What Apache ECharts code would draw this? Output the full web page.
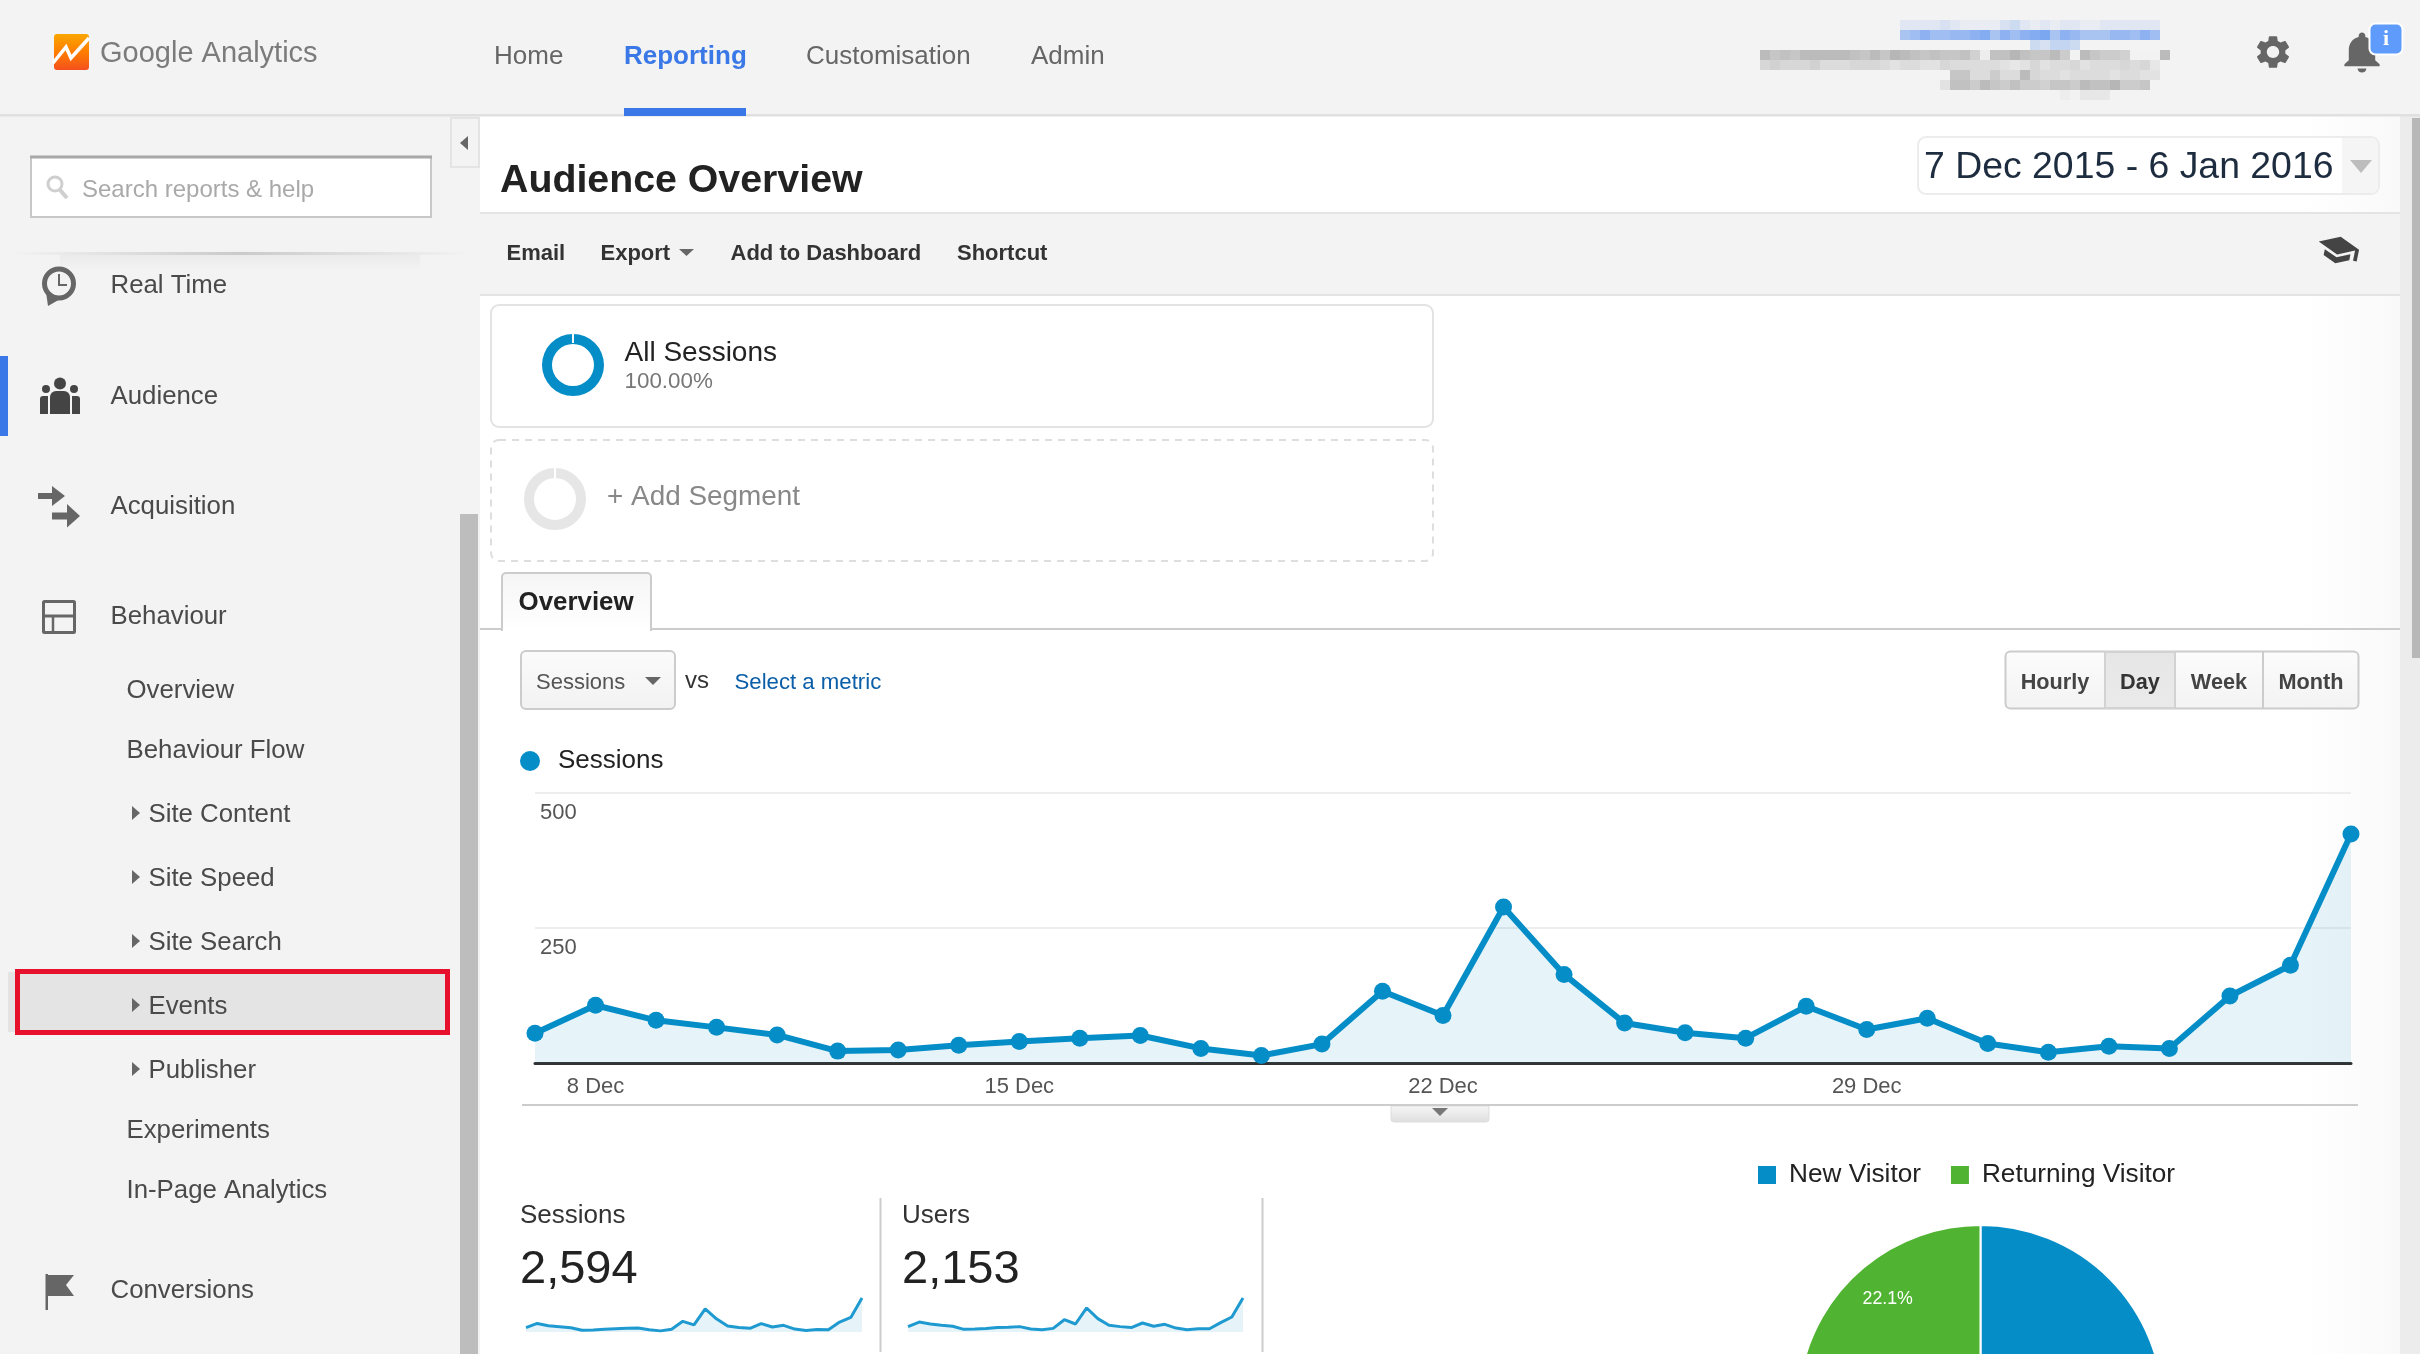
<!DOCTYPE html>
<html>
<head>
<meta charset="utf-8">
<title>Audience Overview</title>
<style>
  html, body { margin: 0; padding: 0; background: #fff; overflow: hidden; }
  #chart { width: 2420px; height: 1354px; }
</style>
<script src="https://cdn.jsdelivr.net/npm/echarts@6/dist/echarts.min.js"></script>
</head>
<body>
<div id="chart"></div>
<script>
// chart data
const days = ['7 Dec','8 Dec','9 Dec','10 Dec','11 Dec','12 Dec','13 Dec','14 Dec','15 Dec','16 Dec','17 Dec','18 Dec','19 Dec','20 Dec','21 Dec','22 Dec','23 Dec','24 Dec','25 Dec','26 Dec','27 Dec','28 Dec','29 Dec','30 Dec','31 Dec','1 Jan','2 Jan','3 Jan','4 Jan','5 Jan','6 Jan'];
const dayTicks = ['8 Dec','15 Dec','22 Dec','29 Dec'];
const sessions = [55,107,79,66,52,22,24,33,40,46,51,27,14,35,133,88,289,164,74,56,46,105,62,83,36,20,31,27,124,181,424];
const users = [49,91,73,61,52,24,27,33,40,43,49,27,21,33,112,73,219,122,61,49,40,82,52,70,36,21,30,30,85,137,310];
const visitorNames = ['New Visitor','Returning Visitor'];
const visitorShare = [77.9,22.1];
const segmentShare = [100];

const navTop = ['Home','Customisation','Admin'];
const menuMain = [['Real Time',284],['Audience',395],['Acquisition',505],['Behaviour',615],['Conversions',1289]];
const menuSub = [['Overview',689],['Behaviour Flow',749],['Experiments',1129],['In-Page Analytics',1189]];
const menuArrow = [['Site Content',813],['Site Speed',877],['Site Search',941],['Events',1005],['Publisher',1069]];

const FONT = '"Liberation Sans", Arial, sans-serif';
const BLUE = '#058dc7';
const GREEN = '#50b432';

// the graphic component has no plain path type, so register the icons as shapes
echarts.graphic.registerShape('iconGear', echarts.graphic.extendPath('M19.14 12.94c.04-.3.06-.61.06-.94 0-.32-.02-.64-.07-.94l2.03-1.58c.18-.14.23-.41.12-.61l-1.92-3.32c-.12-.22-.37-.29-.59-.22l-2.39.96c-.5-.38-1.03-.7-1.62-.94l-.36-2.54c-.04-.24-.24-.41-.48-.41h-3.84c-.24 0-.43.17-.47.41l-.36 2.54c-.59.24-1.13.57-1.62.94l-2.39-.96c-.22-.08-.47 0-.59.22L2.74 8.87c-.12.21-.08.47.12.61l2.03 1.58c-.05.3-.09.63-.09.94s.02.64.07.94l-2.03 1.58c-.18.14-.23.41-.12.61l1.92 3.32c.12.22.37.29.59.22l2.39-.96c.5.38 1.03.7 1.62.94l.36 2.54c.05.24.24.41.48.41h3.84c.24 0 .44-.17.47-.41l.36-2.54c.59-.24 1.13-.56 1.62-.94l2.39.96c.22.08.47 0 .59-.22l1.92-3.32c.12-.22.07-.47-.12-.61l-2.01-1.58zM12 15.6c-1.98 0-3.6-1.62-3.6-3.6s1.62-3.6 3.6-3.6 3.6 1.62 3.6 3.6-1.62 3.6-3.6 3.6z', {}));
echarts.graphic.registerShape('iconBell', echarts.graphic.extendPath('M12 22c1.1 0 2-.9 2-2h-4c0 1.1.89 2 2 2zm6-6v-5c0-3.07-1.64-5.64-4.5-6.32V4c0-.83-.67-1.5-1.5-1.5s-1.5.67-1.5 1.5v.68C7.63 5.36 6 7.92 6 11v5l-2 2v1h16v-1l-2-2z', {}));
echarts.graphic.registerShape('iconHat', echarts.graphic.extendPath('M5 13.18v4L12 21l7-3.82v-4L12 17l-7-3.82zM12 3L1 9l11 6 9-4.91V17h2V9L12 3z', {}));

// small helpers for the page around the chart
function text(x, y, str, size, fill, bold, align) {
  return {
    type: 'text', x: x, y: y + size * 0.08, z: 20, silent: true,
    style: {
      text: str, fill: fill, font: (bold ? 'bold ' : '') + size + 'px ' + FONT,
      align: align || 'left', verticalAlign: 'middle',
      textAlign: align || 'left', textVerticalAlign: 'middle'
    }
  };
}
function rect(x, y, w, h, fill, stroke, lw, r, z) {
  return {
    type: 'rect', z: z === undefined ? -10 : z, silent: true,
    shape: { x: x, y: y, width: w, height: h, r: r || 0 },
    style: { fill: fill || 'transparent', stroke: stroke || null, lineWidth: lw || 0 }
  };
}
function poly(points, fill, z) {
  return { type: 'polygon', z: z === undefined ? 10 : z, silent: true, shape: { points: points }, style: { fill: fill } };
}
function line(x1, y1, x2, y2, stroke, lw, z) {
  return { type: 'line', z: z === undefined ? -5 : z, silent: true, shape: { x1: x1, y1: y1, x2: x2, y2: y2 }, style: { stroke: stroke, lineWidth: lw } };
}
function circle(cx, cy, r, fill, stroke, lw) {
  return { type: 'circle', z: 10, silent: true, shape: { cx: cx, cy: cy, r: r }, style: { fill: fill || 'transparent', stroke: stroke || null, lineWidth: lw || 0 } };
}
// icons are 24x24 paths, scaled around their middle: cx, cy is where the middle lands
function icon(type, cx, cy, sx, sy, fill, rot) {
  return { type: type, z: 10, silent: true, x: cx - 12, y: cy - 12, scaleX: sx, scaleY: sy, rotation: rot || 0, originX: 12, originY: 12, shape: {}, style: { fill: fill } };
}
function grad(x2, y2, stops) {
  return { type: 'linear', x: 0, y: 0, x2: x2, y2: y2, colorStops: stops.map((c, i) => ({ offset: i / (stops.length - 1), color: c })) };
}

// blurred account name in the header, one hex digit per 10px cell
const mosaic = [
  [1900, 20, 1, 'ddddcdeeeecbdededdee'.padEnd(26, 'd')],
  [1900, 30, 1, '7646655437464327457775564'.padEnd(26, '6')],
  [2030, 40, 1, 'bcaab'],
  [1760, 50, 0, '5767555556757456767769e66467758f57889fff5'],
  [1760, 60, 0, 'a9aaa9bbbaaabcbbccabbbbbcdcacbbacbbbabad'],
  [1950, 70, 0, '77bb8bb5abbcbbbbcbbcc'],
  [1940, 80, 0, 'c66857868897785664887'],
  [2060, 90, 0, 'efdddf']
];
function mosaicCells() {
  const out = [];
  mosaic.forEach(function (row) {
    row[3].split('').forEach(function (d, i) {
      const t = parseInt(d, 16) / 15;
      const from = row[2] ? [105, 155, 240] : [160, 160, 160];
      const c = from.map(v => Math.round(v + (242 - v) * t));
      out.push(rect(row[0] + i * 10, row[1], 10, 10, 'rgb(' + c.join(',') + ')', null, 0, 0, -4));
    });
  });
  return out;
}

function chrome() {
  const els = [];
  // page backgrounds
  els.push(rect(0, 0, 2420, 1354, '#f3f3f3'));
  els.push(rect(480, 116, 1920, 1238, '#ffffff'));
  els.push(rect(2300, 116, 100, 1238, grad(1, 0, ['rgba(250,250,250,0)', '#f9f9f9'])));
  els.push(rect(2400, 116, 20, 1238, '#ececec'));
  els.push(rect(2412, 118, 8, 540, '#b8b8b8'));
  els.push(rect(0, 114, 2420, 2.5, '#e0e0e0'));
  els.push(rect(480, 213, 1920, 82, '#f3f3f3'));
  els.push(rect(480, 212, 1920, 2, '#e4e4e4'));
  els.push(rect(480, 294, 1920, 2, '#e4e4e4'));

  // header
  els.push(rect(54, 34, 35, 36, grad(0, 1, ['#f9a600', '#ff7d00', '#f4511e']), null, 0, 3, 10));
  els.push({ type: 'polyline', z: 11, silent: true, shape: { points: [[53, 63], [66, 47], [71, 58], [89, 38]] }, style: { stroke: '#fff', lineWidth: 3.5, fill: null } });
  els.push(text(100, 52, 'Google Analytics', 29, '#7b7b7b'));
  els.push(text(494, 55, navTop[0], 26, '#666'));
  els.push(text(624, 55, 'Reporting', 26, '#3b78e7', true));
  els.push(text(806, 55, navTop[1], 26, '#666'));
  els.push(text(1031, 55, navTop[2], 26, '#666'));
  els.push(rect(624, 108, 122, 8, '#3b78e7', null, 0, 0, -3));
  mosaicCells().forEach(e => els.push(e));
  els.push(icon('iconGear', 2273, 52, 1.72, 1.65, '#666'));
  els.push(icon('iconBell', 2362, 52, 2.2, 2.05, '#666'));
  els.push(rect(2369.5, 23.5, 33, 31, '#5e9bfa', '#fff', 2, 6, 11));
  els.push(Object.assign(text(2386, 38, 'i', 22, '#fff', true, 'center'), { style: { text: 'i', fill: '#fff', font: 'bold 22px "Liberation Serif", serif', align: 'center', verticalAlign: 'middle', textAlign: 'center', textVerticalAlign: 'middle' } }));

  // side bar
  els.push(rect(31, 157, 400, 60, '#fff', '#c8c8c8', 2));
  els.push(rect(30, 155.5, 402, 3, '#a8a8a8'));
  els.push(circle(55, 184, 7, null, '#cfcfcf', 3));
  els.push(line(60, 190, 67, 198, '#cfcfcf', 4, 10));
  els.push(text(82, 188, 'Search reports & help', 24, '#a9a9a9'));
  els.push(rect(451, 118, 28, 49, '#f3f3f3', '#e4e4e4', 2));
  els.push(poly([[468, 136], [460, 143], [468, 150]], '#666'));
  els.push(rect(10, 252, 460, 3, grad(1, 0, ['rgba(0,0,0,0)', 'rgba(0,0,0,0.17)', 'rgba(0,0,0,0)']), null, 0, 0, -8));
  els.push(rect(60, 255, 360, 16, grad(0, 1, ['rgba(0,0,0,0.035)', 'rgba(0,0,0,0)']), null, 0, 0, -8));
  els.push(rect(0, 356, 8, 80, '#3b78e7'));
  els.push(rect(460, 514, 18, 840, '#bdbdbd'));
  els.push(rect(8, 972, 437, 60, '#e4e4e4'));
  els.push(rect(17.5, 971.5, 430, 61, 'transparent', '#e8112d', 5, 0, 15));
  menuMain.forEach(m => els.push(text(110.5, m[1], m[0], 25.8, '#4a4a4a')));
  menuSub.forEach(m => els.push(text(126.5, m[1], m[0], 25.8, '#4a4a4a')));
  menuArrow.forEach(m => {
    els.push(text(148.5, m[1], m[0], 25.8, '#4a4a4a'));
    els.push(poly([[132, m[1] - 7], [140, m[1]], [132, m[1] + 7]], '#666'));
  });
  // side bar icons
  els.push(circle(59, 283.5, 14.5, null, '#666', 5));
  els.push(poly([[46, 292], [48, 306], [62, 298]], '#666'));
  els.push({ type: 'polyline', z: 11, silent: true, shape: { points: [[59, 274], [59, 285], [67, 285]] }, style: { stroke: '#666', lineWidth: 2, fill: null } });
  els.push(circle(60, 383.5, 6, '#444'));
  els.push(circle(46, 389, 4, '#444'));
  els.push(circle(74, 389, 4, '#444'));
  els.push(rect(50, 391, 20, 23, '#444', null, 0, [6, 6, 0, 0], 10));
  els.push(rect(40, 396, 8, 18, '#444', null, 0, [3, 0, 0, 0], 10));
  els.push(rect(72, 396, 8, 18, '#444', null, 0, [0, 3, 0, 0], 10));
  els.push(poly([[38, 493], [52, 493], [52, 486], [65, 496], [52, 506], [52, 499], [38, 499]], '#666'));
  els.push(poly([[52, 512.5], [67, 512.5], [67, 504], [80, 516], [67, 527.5], [67, 519.5], [52, 519.5]], '#666'));
  els.push(rect(43.5, 601.5, 31, 31, 'transparent', '#666', 3, 1, 10));
  els.push(line(43, 616, 75, 616, '#666', 3, 10));
  els.push(line(53, 616, 53, 632, '#666', 2.5, 10));
  els.push(rect(45.5, 1274, 2.5, 36, '#666', null, 0, 0, 10));
  els.push(poly([[46, 1275], [74, 1275], [66, 1285], [74, 1296], [46, 1296]], '#666'));

  // title row
  els.push(text(500, 178, 'Audience Overview', 39.3, '#222', true));
  els.push(rect(1918, 137, 461, 57, '#fff', '#ececec', 2, 8));
  els.push(rect(2342, 138, 36, 55, '#f5f5f5', null, 0, [0, 7, 7, 0]));
  els.push(text(1924, 165, '7 Dec 2015 - 6 Jan 2016', 37.4, '#1d2d3f'));
  els.push(poly([[2350, 160], [2372, 160], [2361, 173]], '#bdbdbd'));

  // toolbar
  els.push(text(506.5, 252, 'Email', 22, '#333', true));
  els.push(text(600.5, 252, 'Export', 22, '#333', true));
  els.push(poly([[679, 249], [694, 249], [686.5, 256]], '#666'));
  els.push(text(730.5, 252, 'Add to Dashboard', 22, '#333', true));
  els.push(text(957, 252, 'Shortcut', 22, '#333', true));
  els.push(icon('iconHat', 2338, 250, 1.87, 1.5, '#444', -0.2));

  // segments
  els.push(rect(491, 305, 942, 122, '#fff', '#e3e3e3', 2, 8));
  els.push(rect(572, 333, 2, 10, '#fff', null, 0, 0, 10));
  els.push(text(624.5, 351, 'All Sessions', 28, '#222'));
  els.push(text(624.5, 380, '100.00%', 22.4, '#777'));
  els.push(Object.assign(rect(491, 440, 942, 121, '#fff', '#dedede', 2, 8), { style: { fill: '#fff', stroke: '#dedede', lineWidth: 2, lineDash: [7, 6] } }));
  els.push(circle(555, 499, 26, null, '#e6e6e6', 10));
  els.push(rect(554, 468, 2, 10, '#fff', null, 0, 0, 11));
  els.push(text(607, 495, '+ Add Segment', 27.9, '#888'));

  // tab
  els.push(line(480, 629, 2400, 629, '#cccccc', 2));
  els.push(rect(502, 573, 149, 57, grad(0, 1, ['#f5f5f5', '#ffffff']), '#cccccc', 2, [4, 4, 0, 0]));
  els.push(rect(503, 627, 147, 4, '#fff', null, 0, 0, -4));
  els.push(text(518.5, 601, 'Overview', 25.9, '#222', true));

  // metric picker and period buttons
  els.push(rect(521, 651, 154, 58, grad(0, 1, ['#fbfbfb', '#f2f2f2']), '#cccccc', 2, 5));
  els.push(text(536, 681, 'Sessions', 22, '#555'));
  els.push(poly([[645, 677], [661, 677], [653, 685]], '#666'));
  els.push(text(685, 679, 'vs', 24, '#333'));
  els.push(text(734.5, 681, 'Select a metric', 22.2, '#0b5ea8'));
  els.push(rect(2005.5, 651.5, 353, 57, grad(0, 1, ['#fcfcfc', '#f3f3f3']), '#cccccc', 2, 5));
  els.push(rect(2105, 652, 70, 56, grad(0, 1, ['#e6e6e6', '#eaeaea']), '#d2d2d2', 2));
  els.push(line(2263, 652, 2263, 708, '#cccccc', 2));
  els.push(text(2055, 681, 'Hourly', 21.7, '#444', true, 'center'));
  els.push(text(2140, 681, 'Day', 21.7, '#333', true, 'center'));
  els.push(text(2219, 681, 'Week', 21.7, '#444', true, 'center'));
  els.push(text(2311, 681, 'Month', 21.7, '#444', true, 'center'));

  // below the main chart
  els.push(line(522, 1105, 2358, 1105, '#cccccc', 2));
  els.push(rect(1391, 1106, 98, 16, grad(0, 1, ['#f6f6f6', '#dedede']), '#dddddd', 1, [0, 0, 3, 3]));
  els.push(poly([[1432, 1108], [1448, 1108], [1440, 1116]], '#777'));

  // scorecards
  els.push(text(520, 1214, 'Sessions', 26, '#333'));
  els.push(text(520, 1266, '2,594', 47, '#222'));
  els.push(text(902, 1214, 'Users', 26, '#333'));
  els.push(text(902, 1266, '2,153', 47, '#222'));
  els.push(line(880.5, 1198, 880.5, 1352, '#cccccc', 2));
  els.push(line(1262.5, 1198, 1262.5, 1352, '#cccccc', 2));
  return els;
}

const chart = echarts.init(document.getElementById('chart'));

const sparkArea = { color: 'rgba(5,141,199,0.1)', opacity: 1 };

chart.setOption({
  animation: false,
  textStyle: { fontFamily: FONT },
  graphic: { elements: chrome() },
  legend: [
    {
      data: ['Sessions'], left: 520, top: 748, padding: 0, orient: 'horizontal', icon: 'circle',
      itemWidth: 20, itemHeight: 20, selectedMode: false,
      textStyle: { fontSize: 26, color: '#222', padding: [0, 0, 0, 13] }
    },
    {
      data: visitorNames, left: 1756, top: 1162, padding: 0, icon: 'rect',
      itemWidth: 20, itemHeight: 20, itemGap: 28, selectedMode: false,
      textStyle: { fontSize: 26.2, color: '#222', padding: [0, 0, 0, 7] }
    }
  ],
  grid: [
    { left: 535, right: 69, top: 793, bottom: 291 },
    { left: 526, width: 336, top: 1298, height: 34 },
    { left: 908, width: 335, top: 1298, height: 34 }
  ],
  xAxis: [
    {
      type: 'category', gridIndex: 0, data: days, boundaryGap: false,
      axisLine: { lineStyle: { color: '#333', width: 3 } },
      axisTick: { show: false },
      axisLabel: {
        interval: (i, name) => dayTicks.includes(name),
        fontSize: 22, color: '#555', margin: 13, hideOverlap: false
      }
    },
    { type: 'category', gridIndex: 1, data: days, boundaryGap: false, show: false },
    { type: 'category', gridIndex: 2, data: days, boundaryGap: false, show: false }
  ],
  yAxis: [
    {
      type: 'value', gridIndex: 0, min: 0, max: 500, interval: 250,
      axisLine: { show: false }, axisTick: { show: false },
      splitLine: { lineStyle: { color: '#eeeeee', width: 2 } },
      axisLabel: {
        inside: true, showMinLabel: false, verticalAlign: 'top',
        padding: [8.5, 0, 0, 0], margin: 5, fontSize: 22, color: '#555'
      }
    },
    { type: 'value', gridIndex: 1, min: 0, max: 'dataMax', show: false },
    { type: 'value', gridIndex: 2, min: 0, max: 'dataMax', show: false }
  ],
  series: [
    {
      name: 'Sessions', type: 'line', data: sessions, xAxisIndex: 0, yAxisIndex: 0,
      symbol: 'circle', symbolSize: 17, showAllSymbol: true, clip: false,
      lineStyle: { color: BLUE, width: 6 }, itemStyle: { color: BLUE },
      areaStyle: sparkArea, silent: true, z: 3
    },
    {
      name: 'Sessions trend', type: 'line', data: sessions, xAxisIndex: 1, yAxisIndex: 1,
      symbol: 'none', lineStyle: { color: '#1f9ad0', width: 3 }, areaStyle: sparkArea, silent: true
    },
    {
      name: 'Users trend', type: 'line', data: users, xAxisIndex: 2, yAxisIndex: 2,
      symbol: 'none', lineStyle: { color: '#1f9ad0', width: 3 }, areaStyle: sparkArea, silent: true
    },
    {
      name: 'Visitors', type: 'pie', center: [1980.5, 1407.5], radius: 182.5, startAngle: 90,
      silent: true,
      data: visitorNames.map((n, i) => ({ name: n, value: visitorShare[i] })),
      color: [BLUE, GREEN],
      itemStyle: { borderColor: '#fff', borderWidth: 2 },
      label: { position: 'inside', formatter: p => p.value + '%', fontSize: 17.8, color: '#fff' },
      labelLayout: { dx: -32.5, dy: -35.5 },
      labelLine: { show: false }
    },
    {
      name: 'All Sessions', type: 'pie', center: [573, 365], radius: [21, 31], silent: true,
      data: segmentShare, color: [BLUE], label: { show: false }, labelLine: { show: false }
    }
  ]
});
</script>
</body>
</html>
